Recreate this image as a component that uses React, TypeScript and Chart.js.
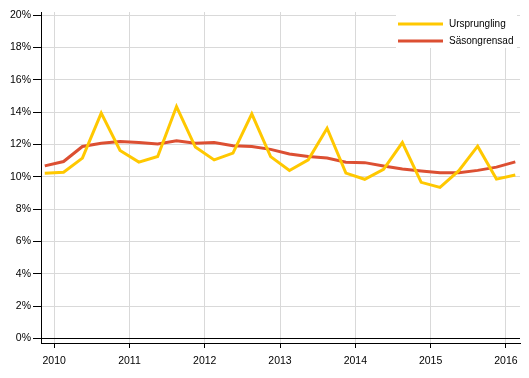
import React, { useEffect, useRef } from "react";
import { Chart, registerables } from "chart.js";

Chart.register(...registerables);

const yearLabels = ["2010", "2011", "2012", "2013", "2014", "2015", "2016"];
const yearTickPositions = [0.5, 4.5, 8.5, 12.5, 16.5, 20.5, 24.5];
const yTicks = [0, 2, 4, 6, 8, 10, 12, 14, 16, 18, 20];

const ursprunglig = [
  10.23, 10.29, 11.16, 13.94, 11.63, 10.91, 11.26, 14.35, 11.84, 11.05, 11.47,
  13.9, 11.25, 10.39, 11.05, 13.01, 10.23, 9.85, 10.46, 12.12, 9.66, 9.35,
  10.38, 11.9, 9.86, 10.12,
];
const sasongrensad = [
  10.68, 10.95, 11.88, 12.08, 12.19, 12.13, 12.04, 12.23, 12.08, 12.13, 11.92,
  11.88, 11.7, 11.42, 11.26, 11.16, 10.91, 10.88, 10.67, 10.48, 10.36, 10.26,
  10.26, 10.4, 10.6, 10.93,
];

const seriesNames = ["Ursprungling", "Säsongrensad"];
const seriesColors = ["#FFC800", "#DC4F32"];

const legendPlugin = {
  id: "customLegend",
  afterDatasetsDraw(chart: any) {
    const ctx = chart.ctx;
    ctx.save();
    ctx.fillStyle = "#ffffff";
    ctx.fillRect(396, 11, 121, 37);
    ctx.font = "10px 'Liberation Sans', Arial, sans-serif";
    ctx.textBaseline = "middle";
    ctx.textAlign = "left";
    seriesNames.forEach((name, i) => {
      const y = 24 + i * 17;
      ctx.strokeStyle = seriesColors[i];
      ctx.lineWidth = 3;
      ctx.beginPath();
      ctx.moveTo(398, y);
      ctx.lineTo(443, y);
      ctx.stroke();
      ctx.fillStyle = "#000";
      ctx.fillText(name, 449, y);
    });
    ctx.restore();
  },
};

export default function App() {
  const canvasRef = useRef<HTMLCanvasElement | null>(null);

  useEffect(() => {
    document.body.style.margin = "0";
    const canvas = canvasRef.current;
    if (!canvas) return;
    const points = (arr: number[]) => arr.map((v, i) => ({ x: i, y: v }));
    const chart = new Chart(canvas, {
      type: "line",
      data: {
        datasets: [
          {
            label: seriesNames[0],
            data: points(ursprunglig),
            borderColor: seriesColors[0],
            backgroundColor: seriesColors[0],
            borderWidth: 3,
            pointRadius: 0,
            tension: 0,
          },
          {
            label: seriesNames[1],
            data: points(sasongrensad),
            borderColor: seriesColors[1],
            backgroundColor: seriesColors[1],
            borderWidth: 3,
            pointRadius: 0,
            tension: 0,
          },
        ],
      },
      options: {
        animation: false,
        responsive: false,
        maintainAspectRatio: false,
        layout: { padding: { top: 12, right: 9, left: 0, bottom: 0 } },
        plugins: {
          legend: { display: false },
          tooltip: { enabled: false },
        },
        scales: {
          x: {
            type: "linear",
            min: -0.2,
            max: 25.25,
            afterBuildTicks: (axis: any) => {
              axis.ticks = yearTickPositions.map((v) => ({ value: v }));
            },
            afterFit: (axis: any) => {
              axis.height = 35;
            },
            ticks: {
              autoSkip: false,
              maxRotation: 0,
              color: "#000",
              padding: 7,
              font: { family: "'Liberation Sans', Arial, sans-serif", size: 10.5 },
              callback: (value: any) => {
                const idx = yearTickPositions.indexOf(Number(value));
                return idx >= 0 ? yearLabels[idx] : "";
              },
            },
            grid: {
              color: "#d9d9d9",
              tickColor: "#000",
              tickLength: 5,
              lineWidth: 1,
            },
            border: { display: true, color: "#000", width: 1 },
          },
          y: {
            type: "linear",
            min: -0.28,
            max: 20.2,
            afterBuildTicks: (axis: any) => {
              axis.ticks = yTicks.map((v) => ({ value: v }));
            },
            afterFit: (axis: any) => {
              axis.width = 41;
            },
            ticks: {
              color: "#000",
              padding: 2,
              font: { family: "'Liberation Sans', Arial, sans-serif", size: 10.5 },
              callback: (value: any) => `${value}%`,
            },
            grid: {
              color: (c: any) => (c.tick && c.tick.value === 0 ? "#000" : "#d9d9d9"),
              tickColor: "#000",
              tickLength: 8,
              lineWidth: 1,
            },
            border: { display: true, color: "#000", width: 1 },
          },
        },
      },
      plugins: [legendPlugin],
    } as any);
    return () => chart.destroy();
  }, []);

  return (
    <div style={{ width: 529, height: 378 }}>
      <canvas ref={canvasRef} width={529} height={378} style={{ display: "block" }} />
    </div>
  );
}
